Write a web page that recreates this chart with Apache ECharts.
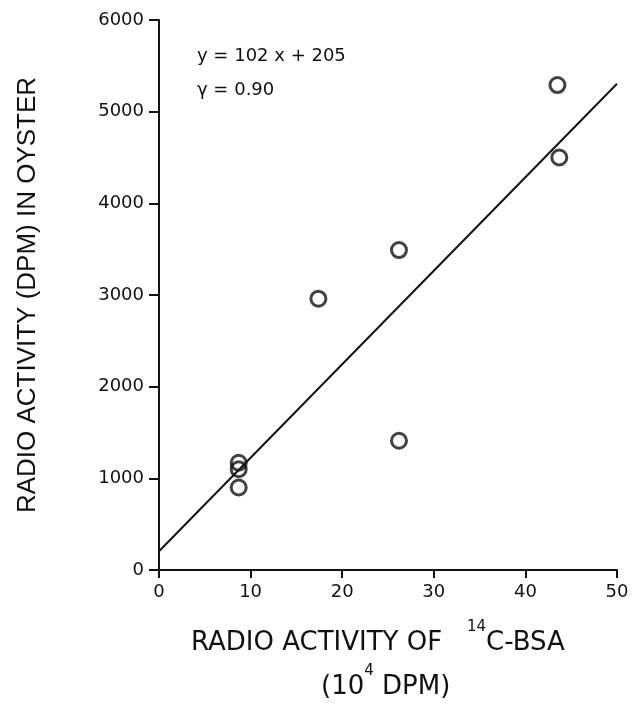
<!DOCTYPE html>
<html>
<head>
<meta charset="utf-8">
<script src="https://cdn.jsdelivr.net/npm/echarts@6/dist/echarts.min.js"></script>
<style>
  html, body { margin: 0; padding: 0; background: #fff; }
  #chart { width: 642px; height: 705px; }
</style>
</head>
<body>
<div id="chart"></div>
<script>
// Oyster uptake vs. administered 14C-BSA activity
const bsaActivity = [8.7, 8.7, 8.7, 17.4, 26.2, 26.2, 43.5, 43.7];   // 10^4 DPM
const oysterActivity = [1170, 1100, 900, 2960, 3490, 1410, 5290, 4500]; // DPM
const fitSlope = 102;
const fitIntercept = 205;
const fitRange = [0, 50];
const xTicks = [0, 10, 20, 30, 40, 50];
const yTicks = [0, 1000, 2000, 3000, 4000, 5000, 6000];

const numFont = '"DejaVu Sans", sans-serif';
const titleFont = '"Liberation Sans", Arial, sans-serif';
const points = bsaActivity.map((x, i) => [x, oysterActivity[i]]);
const fitLine = fitRange.map(x => [x, fitSlope * x + fitIntercept]);

const chart = echarts.init(document.getElementById('chart'), null, { renderer: 'canvas' });
chart.setOption({
  backgroundColor: '#fff',
  animation: false,
  grid: { left: 159, right: 25, top: 20, bottom: 135, containLabel: false, outerBoundsMode: 'none' },
  xAxis: {
    type: 'value', min: xTicks[0], max: xTicks[xTicks.length - 1], interval: 10,
    axisLine: { lineStyle: { color: '#111', width: 2 } },
    axisTick: { inside: false, length: 8, lineStyle: { color: '#111', width: 2 } },
    axisLabel: { color: '#111', fontSize: 18, fontFamily: numFont, margin: 13, formatter: v => String(v) },
    splitLine: { show: false }
  },
  yAxis: {
    type: 'value', min: yTicks[0], max: yTicks[yTicks.length - 1], interval: 1000,
    axisLine: { lineStyle: { color: '#111', width: 2 } },
    axisTick: { inside: false, length: 10, lineStyle: { color: '#111', width: 2 } },
    axisLabel: { color: '#111', fontSize: 18, fontFamily: numFont, margin: 15, formatter: v => String(v) },
    splitLine: { show: false },
    name: 'RADIO ACTIVITY (DPM) IN OYSTER',
    nameLocation: 'middle', nameGap: 118, nameRotate: 90,
    nameTextStyle: { color: '#111', fontSize: 26, fontFamily: titleFont }
  },
  graphic: [
    {
      type: 'text', left: 197, top: 47,
      style: { text: 'y = 102 x + 205', fill: '#111', font: '18px ' + numFont }
    },
    {
      type: 'text', left: 197, top: 81,
      style: { text: 'γ = 0.90', fill: '#111', font: '18px ' + numFont }
    },
    {
      type: 'text', left: 191, top: 620,
      style: {
        text: '{a|RADIO ACTIVITY OF   }{s|14}{a|C-BSA}',
        rich: {
          a: { fill: '#111', fontSize: 26, fontFamily: numFont, verticalAlign: 'bottom', lineHeight: 36 },
          s: { fill: '#111', fontSize: 15, fontFamily: numFont, verticalAlign: 'top', lineHeight: 36 }
        }
      }
    },
    {
      type: 'text', left: 321, top: 664,
      style: {
        text: '{a|(10}{s|4}{a| DPM)}',
        rich: {
          a: { fill: '#111', fontSize: 26, fontFamily: numFont, verticalAlign: 'bottom', lineHeight: 36 },
          s: { fill: '#111', fontSize: 15, fontFamily: numFont, verticalAlign: 'top', lineHeight: 36 }
        }
      }
    }
  ],
  series: [
    {
      type: 'line', data: fitLine, symbol: 'none',
      lineStyle: { color: '#111', width: 2 }
    },
    {
      type: 'scatter', data: points, symbol: 'circle', symbolSize: 15,
      itemStyle: { color: 'rgba(255,255,255,0)', borderColor: '#111', borderWidth: 3 }
    }
  ]
});
</script>
</body>
</html>
